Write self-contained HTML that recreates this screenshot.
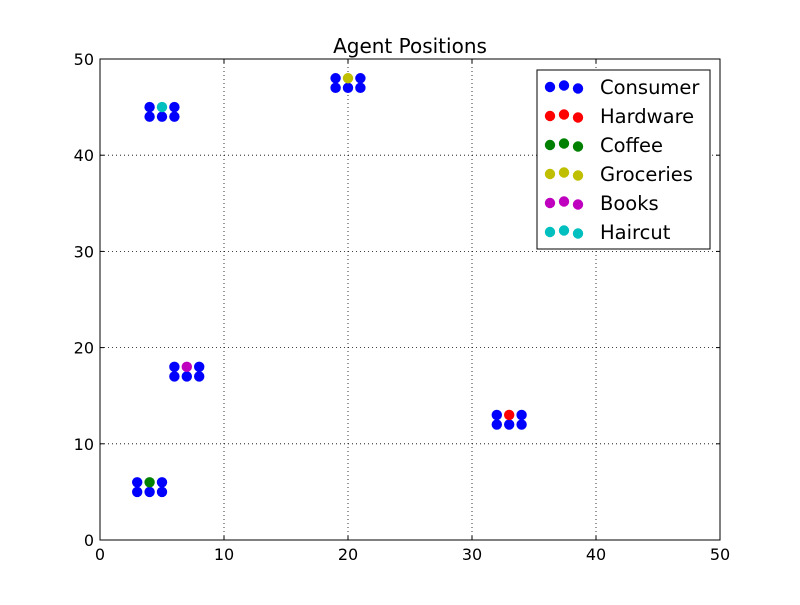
<!DOCTYPE html>
<html><head><meta charset="utf-8"><style>
body{margin:0;background:#fff;}
text{font-family:"DejaVu Sans","Liberation Sans",sans-serif;}
</style></head><body>
<svg id="chart" width="800" height="600" xmlns="http://www.w3.org/2000/svg">
<rect width="800" height="600" fill="#fff"/>
<g id="grid"></g>
<g id="ticks"></g>
<g id="points"></g>
<rect x="100" y="59" width="620" height="481" fill="none" stroke="#000" stroke-width="1"/>
<text x="410" y="53" text-anchor="middle" font-size="20">Agent Positions</text>
<g id="legend"></g>
</svg>
<script>
const xTicks=[0,10,20,30,40,50];
const yTicks=[0,10,20,30,40,50];
const seriesNames=["Consumer","Hardware","Coffee","Groceries","Books","Haircut"];
const seriesColors=["#0000ff","#ff0000","#008000","#bfbf00","#bf00bf","#00bfbf"];
const consumerX=[3,4,5,3,5, 19,20,21,19,21, 4,5,6,4,6, 6,7,8,6,8, 32,33,34,32,34];
const consumerY=[5,5,5,6,6, 47,47,47,48,48, 44,44,44,45,45, 17,17,17,18,18, 12,12,12,13,13];
const hardwareX=[33], hardwareY=[13];
const coffeeX=[4], coffeeY=[6];
const groceriesX=[20], groceriesY=[48];
const booksX=[7], booksY=[18];
const haircutX=[5], haircutY=[45];
const seriesX=[consumerX,hardwareX,coffeeX,groceriesX,booksX,haircutX];
const seriesY=[consumerY,hardwareY,coffeeY,groceriesY,booksY,haircutY];

const NS="http://www.w3.org/2000/svg";
const X0=100,X1=720,Y0=540,Y1=59;
const xs=v=>X0+(v-0)/(50-0)*(X1-X0);
const ys=v=>Y0-(v-0)/(50-0)*(Y0-Y1);
function mk(tag,attrs,parent){const e=document.createElementNS(NS,tag);for(const k in attrs)e.setAttribute(k,attrs[k]);parent.appendChild(e);return e;}
const grid=document.getElementById('grid'),ticks=document.getElementById('ticks');
xTicks.forEach(t=>{
  const x=xs(t);
  if(t>0&&t<50){const l=mk('line',{x1:x,x2:x,y1:Y1,y2:Y0,stroke:'#000','stroke-dasharray':'1,3','stroke-width':0.8},grid);
  
  }
  mk('line',{x1:x,x2:x,y1:Y0,y2:Y0-4,stroke:'#000'},ticks);
  mk('line',{x1:x,x2:x,y1:Y1,y2:Y1+4,stroke:'#000'},ticks);
  const tx=mk('text',{x:x,y:Y0+20,'text-anchor':'middle','font-size':'16'},ticks);
  tx.textContent=t;
  
  
});
yTicks.forEach(t=>{
  const y=ys(t);
  if(t>0&&t<50){const l=mk('line',{x1:X0,x2:X1,y1:y,y2:y,stroke:'#000','stroke-dasharray':'1,3','stroke-width':0.8},grid);
  
  }
  mk('line',{x1:X0,x2:X0+4,y1:y,y2:y,stroke:'#000'},ticks);
  mk('line',{x1:X1,x2:X1-4,y1:y,y2:y,stroke:'#000'},ticks);
  const tx=mk('text',{x:X0-6,y:y+6,'text-anchor':'end','font-size':'16'},ticks);
  tx.textContent=t;
  
  
});
const pts=document.getElementById('points');
seriesNames.forEach((n,i)=>{
  seriesX[i].forEach((xv,j)=>{
    const c=mk('circle',{cx:xs(xv),cy:ys(seriesY[i][j]),r:5.2,fill:seriesColors[i],stroke:'none'},pts);
    
    
  });
});
const lg=document.getElementById('legend');
const box=mk('rect',{x:537,y:70,width:173,height:179,fill:'#fff',stroke:'#000'},lg);


seriesNames.forEach((n,i)=>{
  const cy=87+i*29;
  const g=mk('g',{},lg);
  
  
  [[550,0],[564,-1.5],[578,1.5]].forEach(([x,dy])=>mk('circle',{cx:x,cy:cy+dy,r:5.2,fill:seriesColors[i]},g));
  const t=mk('text',{x:600,y:cy+7,'font-size':'19.5'},g);
  t.textContent=n;
});
</script>
</body></html>
